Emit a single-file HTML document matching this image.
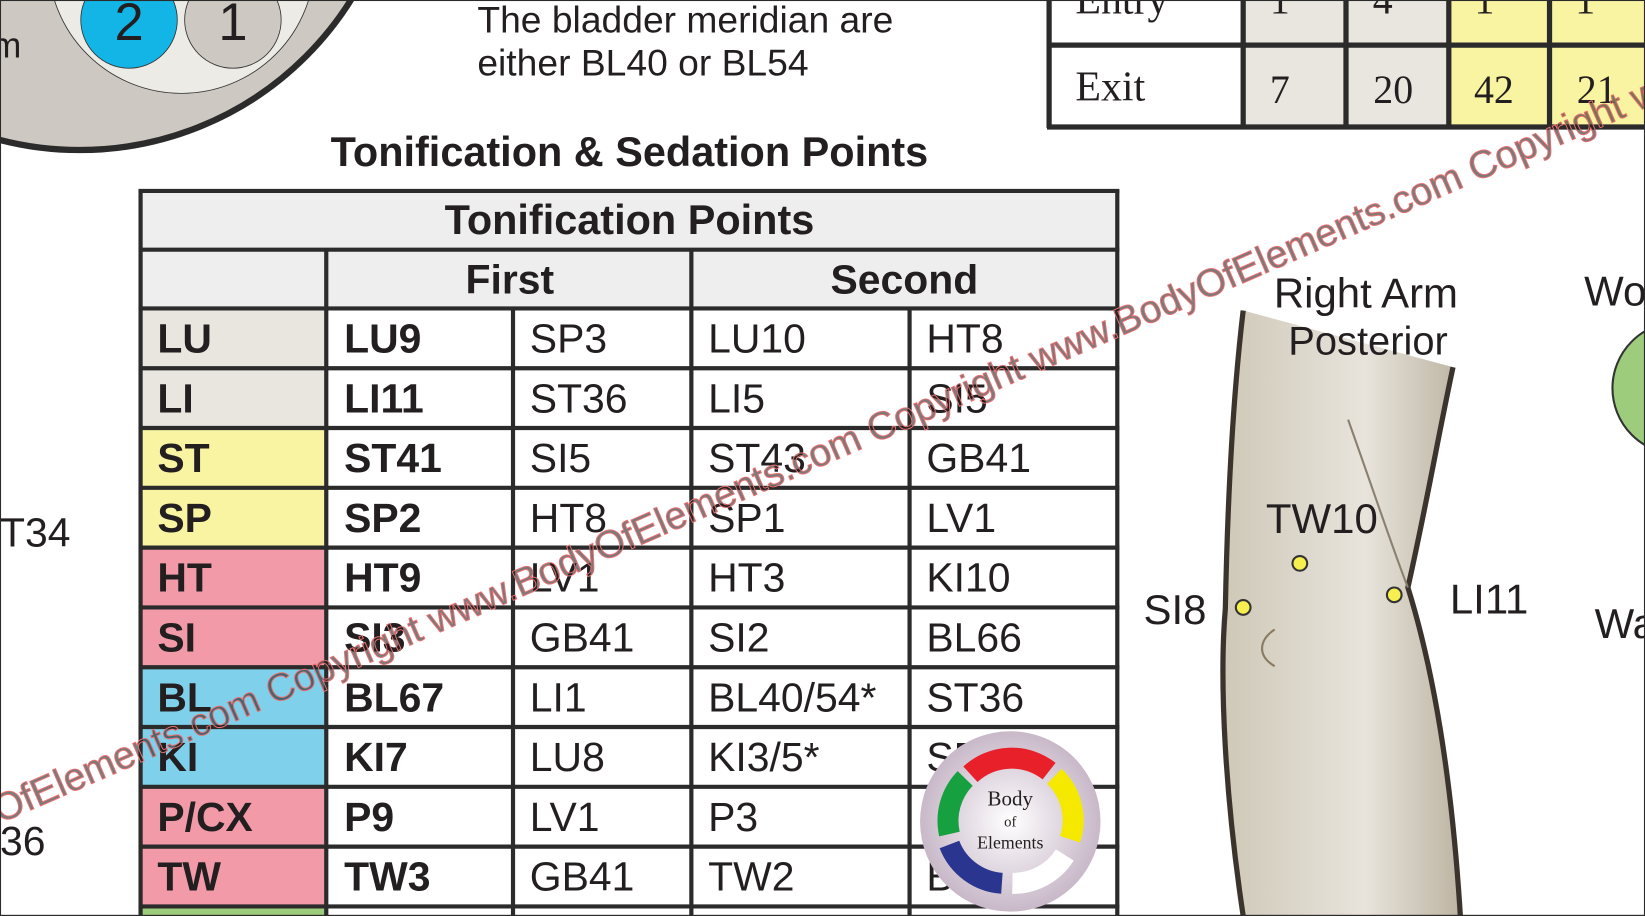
<!DOCTYPE html>
<html><head><meta charset="utf-8"><style>
html,body{margin:0;padding:0;background:#fff;width:1645px;height:916px;overflow:hidden}
svg{display:block}
text{font-family:"Liberation Sans",Arial,sans-serif;fill:#231f20}
.b{font-weight:bold}
.s{font-family:"Liberation Serif",serif}
</style></head><body>
<svg width="1645" height="916" viewBox="0 0 1645 916" xmlns="http://www.w3.org/2000/svg">
<g transform="scale(1.0491)">
<!-- top-left circle -->
<circle cx="76" cy="-162" r="305" fill="#cdc9c2" stroke="#2b2b2b" stroke-width="6"/>
<circle cx="173" cy="-38" r="127" fill="#ecebe6" stroke="#333" stroke-width="0.8"/>
<circle cx="123" cy="19" r="46" fill="#12b5e6" stroke="#333" stroke-width="0.8"/>
<circle cx="222" cy="19" r="46" fill="#cdc9c2" stroke="#333" stroke-width="0.8"/>
<text x="123" y="38" font-size="50" text-anchor="middle">2</text>
<text x="222" y="38" font-size="50" text-anchor="middle" fill="#333">1</text>
<text x="-8" y="55" font-size="34">m</text>

<text x="455" y="31" font-size="35.5">The bladder meridian are</text>
<text x="455" y="72" font-size="35.5">either BL40 or BL54</text>

<!-- entry/exit table -->
<rect x="1185" y="-5" width="196" height="125" fill="#e8e6df"/>
<rect x="1381" y="-5" width="200" height="125" fill="#f8f4a2"/>
<g stroke="#2b2b2b" stroke-width="5" fill="none">
<line x1="1000" y1="-5" x2="1000" y2="122"/>
<line x1="998" y1="43" x2="1568" y2="43"/>
<line x1="998" y1="121" x2="1568" y2="121"/>
<line x1="1185" y1="-5" x2="1185" y2="122"/>
<line x1="1283" y1="-5" x2="1283" y2="122"/>
<line x1="1381" y1="-5" x2="1381" y2="122"/>
<line x1="1477" y1="-5" x2="1477" y2="122"/>
</g>
<text class="s" x="1025" y="13" font-size="40">Entry</text>
<text class="s" x="1220" y="13" font-size="38" text-anchor="middle">1</text>
<text class="s" x="1318" y="13" font-size="38" text-anchor="middle">4</text>
<text class="s" x="1415" y="13" font-size="38" text-anchor="middle">1</text>
<text class="s" x="1511" y="13" font-size="38" text-anchor="middle">1</text>
<text class="s" x="1025" y="96" font-size="40">Exit</text>
<text class="s" x="1220" y="98" font-size="38" text-anchor="middle">7</text>
<text class="s" x="1328" y="98" font-size="38" text-anchor="middle">20</text>
<text class="s" x="1424" y="98" font-size="38" text-anchor="middle">42</text>
<text class="s" x="1522" y="98" font-size="38" text-anchor="middle">21</text>

<!-- heading -->
<text class="b" x="600" y="158" font-size="39.5" text-anchor="middle">Tonification &amp; Sedation Points</text>

<!-- main table backgrounds -->
<rect x="134" y="181" width="931" height="112" fill="#efeeee"/>
<rect x="134" y="293" width="177" height="114" fill="#e9e6e0"/>
<rect x="134" y="407" width="177" height="114" fill="#f8f4a2"/>
<rect x="134" y="521" width="177" height="114" fill="#f29aa8"/>
<rect x="134" y="635" width="177" height="114" fill="#7fd0ea"/>
<rect x="134" y="749" width="177" height="114" fill="#f29aa8"/>
<rect x="134" y="863" width="177" height="20" fill="#9ccc7c"/>
<g stroke="#2b2b2b" stroke-width="4" fill="none">
<line x1="134" y1="181" x2="134" y2="880"/>
<line x1="1065" y1="181" x2="1065" y2="880"/>
<line x1="132" y1="182" x2="1067" y2="182"/>
<line x1="132" y1="238" x2="1067" y2="238"/>
<line x1="311" y1="238" x2="311" y2="880"/>
<line x1="659" y1="238" x2="659" y2="880"/>
<line x1="489" y1="293" x2="489" y2="880"/>
<line x1="867" y1="293" x2="867" y2="880"/>
<line x1="132" y1="294" x2="1067" y2="294"/>
<line x1="132" y1="351" x2="1067" y2="351"/>
<line x1="132" y1="408" x2="1067" y2="408"/>
<line x1="132" y1="465" x2="1067" y2="465"/>
<line x1="132" y1="522" x2="1067" y2="522"/>
<line x1="132" y1="579" x2="1067" y2="579"/>
<line x1="132" y1="636" x2="1067" y2="636"/>
<line x1="132" y1="693" x2="1067" y2="693"/>
<line x1="132" y1="750" x2="1067" y2="750"/>
<line x1="132" y1="807" x2="1067" y2="807"/>
<line x1="132" y1="864" x2="1067" y2="864"/>
</g>
<text class="b" x="600" y="223" font-size="39.5" text-anchor="middle">Tonification Points</text>
<text class="b" x="486" y="280" font-size="39" text-anchor="middle">First</text>
<text class="b" x="862" y="280" font-size="39" text-anchor="middle">Second</text>

<g font-size="39">
<g class="b">
<text x="150" y="336">LU</text><text x="150" y="393">LI</text><text x="150" y="450">ST</text><text x="150" y="507">SP</text><text x="150" y="564">HT</text><text x="150" y="621">SI</text><text x="150" y="678">BL</text><text x="150" y="735">KI</text><text x="150" y="792">P/CX</text><text x="150" y="849">TW</text>
<text x="328" y="336">LU9</text><text x="328" y="393">LI11</text><text x="328" y="450">ST41</text><text x="328" y="507">SP2</text><text x="328" y="564">HT9</text><text x="328" y="621">SI3</text><text x="328" y="678">BL67</text><text x="328" y="735">KI7</text><text x="328" y="792">P9</text><text x="328" y="849">TW3</text>
</g>
<text x="505" y="336">SP3</text><text x="505" y="393">ST36</text><text x="505" y="450">SI5</text><text x="505" y="507">HT8</text><text x="505" y="564">LV1</text><text x="505" y="621">GB41</text><text x="505" y="678">LI1</text><text x="505" y="735">LU8</text><text x="505" y="792">LV1</text><text x="505" y="849">GB41</text>
<text x="675" y="336">LU10</text><text x="675" y="393">LI5</text><text x="675" y="450">ST43</text><text x="675" y="507">SP1</text><text x="675" y="564">HT3</text><text x="675" y="621">SI2</text><text x="675" y="678">BL40/54*</text><text x="675" y="735">KI3/5*</text><text x="675" y="792">P3</text><text x="675" y="849">TW2</text>
<text x="883" y="336">HT8</text><text x="883" y="393">SI5</text><text x="883" y="450">GB41</text><text x="883" y="507">LV1</text><text x="883" y="564">KI10</text><text x="883" y="621">BL66</text><text x="883" y="678">ST36</text><text x="883" y="735">SP</text><text x="883" y="849">B</text>
</g>

<text x="0" y="521" font-size="39">T34</text>
<text x="0" y="815" font-size="39">36</text>

<!-- arm -->
<defs>
<linearGradient id="arm" x1="0" x2="1" y1="0" y2="0">
<stop offset="0" stop-color="#cfc8b8"/><stop offset="0.6" stop-color="#e8e4dc"/><stop offset="1" stop-color="#bdb4a2"/>
</linearGradient>
<radialGradient id="logo"><stop offset="0" stop-color="#fff"/><stop offset="1" stop-color="#c8b8c8"/></radialGradient>
</defs>
<path d="M1185,296 L1385,350 C1370,420 1360,480 1342,560 C1370,650 1385,760 1392,873 L1185,873 C1168,760 1162,650 1168,580 C1170,480 1175,380 1185,296 Z" fill="url(#arm)"/>
<path d="M1185,296 C1175,380 1170,480 1168,580 C1162,650 1168,760 1185,873" stroke="#3a342c" stroke-width="5" fill="none"/>
<path d="M1385,350 C1370,420 1360,480 1342,560 C1370,650 1385,760 1392,873" stroke="#3a342c" stroke-width="5" fill="none"/>
<path d="M1285,400 C1310,470 1330,530 1342,560" stroke="#8a8070" stroke-width="2" fill="none"/>
<path d="M1215,600 C1200,610 1198,625 1215,635" stroke="#8a7a60" stroke-width="2" fill="none"/>
<text x="1302" y="293" font-size="40" text-anchor="middle">Right Arm</text>
<text x="1304" y="338" font-size="38" text-anchor="middle">Posterior</text>
<text x="1260" y="508" font-size="40" text-anchor="middle">TW10</text>
<text x="1090" y="595" font-size="40">SI8</text>
<text x="1382" y="585" font-size="40">LI11</text>
<circle cx="1239" cy="537" r="7" fill="#f7ef50" stroke="#333" stroke-width="2"/>
<circle cx="1185" cy="579" r="7" fill="#f7ef50" stroke="#333" stroke-width="2"/>
<circle cx="1329" cy="567" r="7" fill="#f7ef50" stroke="#333" stroke-width="2"/>
<text x="1510" y="291" font-size="40">Wo</text>
<text x="1520" y="608" font-size="40">Wa</text>
<circle cx="1600" cy="370" r="63" fill="#9ccc7c" stroke="#333" stroke-width="2"/>

<!-- logo -->
<circle cx="963" cy="783" r="86" fill="url(#logo)"/>
<g fill="none" stroke-width="20">
<path d="M925,738 A58,58 0 0 1 1000,735" stroke="#e8202a"/>
<path d="M1005,740 A58,58 0 0 1 1020,800" stroke="#f5e900"/>
<path d="M1015,815 A58,58 0 0 1 965,842" stroke="#ffffff"/>
<path d="M955,842 A58,58 0 0 1 905,805" stroke="#2a3590"/>
<path d="M905,795 A58,58 0 0 1 920,742" stroke="#17a040"/>
</g>
<text class="s" x="963" y="768" font-size="20" text-anchor="middle">Body</text>
<text class="s" x="963" y="788" font-size="14" text-anchor="middle">of</text>
<text class="s" x="963" y="809" font-size="17" text-anchor="middle">Elements</text>

<!-- watermark -->
<text x="0" y="785" font-size="37" transform="rotate(-23.5 0 785)" fill="#f8c0c0" fill-opacity="0.6" stroke="#ee7070" stroke-width="0.9">OfElements.com Copyright www.BodyOfElements.com Copyright www.BodyOfElements.com Copyright www.BodyOfElements.com</text>

<rect x="0" y="0" width="1568" height="873" fill="none" stroke="#2b2b2b" stroke-width="2"/>
</g>
</svg>
</body></html>
